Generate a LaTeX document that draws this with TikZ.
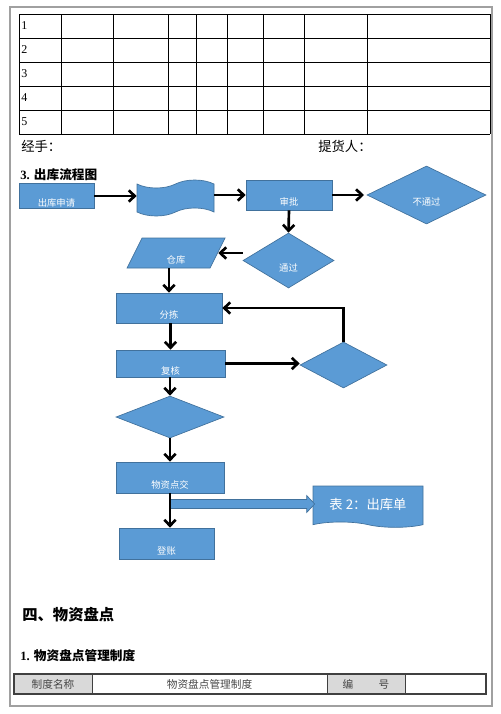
\documentclass[tikz,border=0pt]{standalone}
\usepackage{fontspec}
\setmainfont{Liberation Serif}
\newfontfamily\cjk{Noto Sans CJK SC}
\usetikzlibrary{arrows.meta,shapes.geometric,shapes.symbols,calc}
\definecolor{flowblue}{RGB}{91,155,213}
\definecolor{flowedge}{RGB}{65,113,156}
\definecolor{framegray}{RGB}{160,160,160}
\definecolor{cellgray}{RGB}{217,217,217}
\definecolor{celltext}{RGB}{70,70,70}
\newcommand\lowlbl[1]{\raisebox{-8pt}[0pt][0pt]{#1}}
\tikzset{
  flowfill/.style={fill=flowblue,draw=flowedge,line width=0.5pt},
  flowbox/.style={rectangle,flowfill,text=white,inner sep=0pt,font=\cjk\fontsize{7}{8}\selectfont},
  flowdiamond/.style={diamond,flowfill,text=white,inner sep=0pt,font=\cjk\fontsize{7}{8}\selectfont},
  flowarrow/.style={line width=2pt,-{Straight Barb[length=4.5pt,width=8.5pt]}},
  tableline/.style={line width=0.7pt,color=black},
  pagetext/.style={anchor=west,inner sep=0pt,font=\cjk\fontsize{10}{12}\selectfont},
  celllabel/.style={inner sep=0pt,text=celltext,font=\cjk\fontsize{8}{10}\selectfont},
}
\begin{document}
\begin{tikzpicture}[x=0.75pt,y=0.75pt,yscale=-1,xscale=1]
        \useasboundingbox (0,0) rectangle (500,714);
        % Page Frame
        \draw [color=framegray, line width=1pt] (10,7) rectangle (492,706);
        % Table: Grid
        \foreach \yy in {14,38,62,86,110,134} \draw [tableline] (19,\yy) -- (490,\yy);
        \foreach \xx in {19,61,113,168,196,227,263,304,367,490} \draw [tableline] (\xx,14) -- (\xx,134);
        % Text Node
        \foreach \i in {1,...,5} \node (row\i) [anchor=west, inner sep=0pt, font=\fontsize{9}{10}\selectfont] at (21,{26+24*(\i-1)}) {\i};
        % Text Node
        \node (handler) [pagetext] at (21,146) {经手：};
        % Text Node
        \node (receiver) [pagetext] at (318,146) {提货人：};
        % Text Node
        \node (flowtitle) [anchor=west, inner sep=0pt, font=\fontsize{9.5}{11}\selectfont] at (20,175) {\textbf{3.} {\cjk\bfseries 出库流程图}};

        % Shape: Rectangle
        \node (apply) [flowbox, minimum width=56.25pt, minimum height=18.75pt] at (56.5,196) {\lowlbl{出库申请}};
        % Shape: Tape
        \node (tape) [tape, flowfill, minimum width=57.75pt, minimum height=27pt, tape bend height=6pt] at (175.5,198) {};
        % Shape: Rectangle
        \node (approve) [flowbox, minimum width=64.5pt, minimum height=22.5pt] at (289,195) {\lowlbl{审批}};
        % Shape: Diamond
        \node (reject) [flowdiamond, minimum width=89.25pt, minimum height=43.5pt] at (426.5,195) {\lowlbl{不通过}};
        % Shape: Diamond
        \node (pass) [flowdiamond, minimum width=68.25pt, minimum height=41.25pt] at (288.5,260.5) {\lowlbl{通过}};
        % Shape: Parallelogram
        \coordinate (storeC) at (176,253);
        \draw [flowfill] ($(storeC)+(-49,15)$) -- ($(storeC)+(-34,-15)$) -- ($(storeC)+(49,-15)$) -- ($(storeC)+(34,15)$) -- cycle;
        \node (store) [rectangle, text=white, inner sep=0pt, font=\cjk\fontsize{7}{8}\selectfont, minimum width=63pt, minimum height=22.5pt] at (storeC) {\lowlbl{仓库}};
        % Shape: Rectangle
        \node (sort) [flowbox, minimum width=79.5pt, minimum height=22.5pt] at (169,308) {\lowlbl{分拣}};
        % Shape: Rectangle
        \node (check) [flowbox, minimum width=81.75pt, minimum height=20.25pt] at (170.5,363.5) {\lowlbl{复核}};
        % Shape: Diamond
        \node (recheck) [flowdiamond, minimum width=65.25pt, minimum height=34.5pt] at (343.5,365) {};
        % Shape: Diamond
        \node (confirm) [flowdiamond, minimum width=81pt, minimum height=31.5pt] at (170,417) {};
        % Shape: Rectangle
        \node (handover) [flowbox, minimum width=81pt, minimum height=23.25pt] at (170,477.5) {\lowlbl{物资点交}};
        % Shape: Rectangle
        \node (ledger) [flowbox, minimum width=71.25pt, minimum height=23.25pt] at (166.5,543.5) {\lowlbl{登账}};
        % Shape: Document
        \node (outform) [tape, tape bend top=none, tape bend bottom=out and in, tape bend height=4pt, flowfill, text=white, font=\cjk\fontsize{10}{12}\selectfont, minimum width=82.5pt, minimum height=31pt] at (368,504) {表 2：出库单};

        % Connection
        \draw [flowarrow] (apply.east) -- (apply.east -| tape.west);
        % Connection
        \draw [flowarrow] (tape.east |- approve.west) -- (approve.west);
        % Connection
        \draw [flowarrow, shorten >=2pt] (approve.east) -- (reject.west);
        % Connection
        \draw [flowarrow] (approve.south) -- (pass.north);
        % Connection
        \draw [flowarrow] (pass.west |- store.east) -- (store.east);
        % Connection
        \draw [flowarrow] (store.south -| sort.north) -- (sort.north);
        % Connection
        \draw [flowarrow] (sort.south -| check.north) -- (check.north);
        % Connection
        \draw [flowarrow] (check.east) -- (check.east -| recheck.west);
        % Connection
        \draw [flowarrow] (recheck.north) |- (sort.east);
        % Connection
        \draw [flowarrow] (check.south -| confirm.north) -- (confirm.north);
        % Connection
        \draw [flowarrow] (confirm.south) -- (handover.north);
        % Block Arrow
        \draw [flowfill] ($(handover.south |- outform.west)+(0,-4.5)$) -- ($(outform.west)+(-6,-4.5)$) -- ($(outform.west)+(-6,-8.5)$) -- ($(outform.west)+(2,0)$) -- ($(outform.west)+(-6,8.5)$) -- ($(outform.west)+(-6,4.5)$) -- ($(handover.south |- outform.west)+(0,4.5)$) -- cycle;
        % Connection
        \draw [flowarrow] (handover.south) -- (handover.south |- ledger.north);

        % Text Node
        \node (section) [anchor=west, inner sep=0pt, font=\cjk\bfseries\fontsize{11.5}{14}\selectfont] at (22,615) {四、物资盘点};
        % Text Node
        \node (subtitle) [anchor=west, inner sep=0pt, font=\fontsize{9.5}{11}\selectfont] at (20,656) {\textbf{1.} {\cjk\bfseries 物资盘点管理制度}};
        % Table: Cells
        \fill [cellgray] (14,674) rectangle (92,694);
        \fill [cellgray] (327,674) rectangle (405,694);
        \foreach \xx in {92,327,405} \draw [line width=0.6pt, color=darkgray] (\xx,674) -- (\xx,694);
        \draw [line width=1pt, color=darkgray] (14,674) rectangle (486,694);
        % Text Node
        \node (namehead) [celllabel] at (53,684) {制度名称};
        % Text Node
        \node (namevalue) [celllabel] at (209.5,684) {物资盘点管理制度};
        % Text Node
        \node (codehead) [celllabel] at (366,684) {编\hspace{19pt}号};
\end{tikzpicture}
\end{document}
